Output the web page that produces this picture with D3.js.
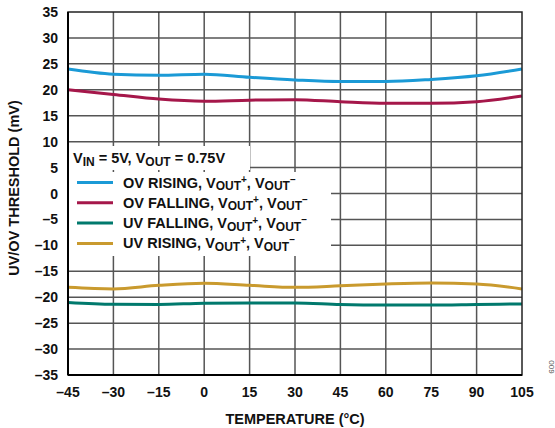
<!DOCTYPE html>
<html><head><meta charset="utf-8">
<script src="https://cdn.jsdelivr.net/npm/d3@7"></script>
<style>
body{margin:0;background:#fff;}
text{font-family:"Liberation Sans",Arial,sans-serif;font-weight:bold;fill:#111;}
</style></head>
<body><svg id="c" width="555" height="428"></svg>
<script>
const temps = [-45,-30,-15,0,15,30,45,60,75,90,105];
const ovRising  = [24.0,23.0,22.8,23.0,22.4,21.9,21.6,21.6,22.0,22.7,24.0];
const ovFalling = [20.0,19.1,18.2,17.8,18.0,18.1,17.7,17.4,17.4,17.7,18.8];
const uvFalling = [-21.0,-21.35,-21.4,-21.15,-21.1,-21.1,-21.4,-21.5,-21.5,-21.4,-21.3];
const uvRising  = [-18.1,-18.4,-17.7,-17.3,-17.7,-18.1,-17.8,-17.45,-17.25,-17.45,-18.4];
const xTicks = [-45,-30,-15,0,15,30,45,60,75,90,105];
const yTicks = [-35,-30,-25,-20,-15,-10,-5,0,5,10,15,20,25,30,35];
const seriesNames = ["OV RISING","OV FALLING","UV FALLING","UV RISING"];
const seriesColors = ["#1b9ad6","#a5174a","#00796d","#c99a2e"];
const seriesData = [ovRising, ovFalling, uvFalling, uvRising];

const svg = d3.select("#c");
const L=68,R=522,T=12,B=375;
const x = d3.scaleLinear().domain([-45,105]).range([L,R]);
const y = d3.scaleLinear().domain([-35,35]).range([B,T]);

// grid
const g = svg.append("g");
g.selectAll("line.v").data(xTicks.slice(1,-1)).join("line")
 .attr("x1",d=>x(d)).attr("x2",d=>x(d)).attr("y1",T).attr("y2",B)
 .attr("stroke","#555").attr("stroke-width",1.5);
g.selectAll("line.h").data(yTicks.slice(1,-1)).join("line")
 .attr("y1",d=>y(d)).attr("y2",d=>y(d)).attr("x1",L).attr("x2",R)
 .attr("stroke","#555").attr("stroke-width",1.5);

// lines
const line = d3.line().x((d,i)=>x(temps[i])).y(d=>y(d)).curve(d3.curveMonotoneX);
seriesData.forEach((s,k)=>{
  svg.append("path").datum(s).attr("d",line).attr("fill","none")
   .attr("stroke",seriesColors[k]).attr("stroke-width",3);
});

// frame
svg.append("rect").attr("x",L).attr("y",T).attr("width",R-L).attr("height",B-T)
 .attr("fill","none").attr("stroke","#222").attr("stroke-width",1.5);
svg.append("line").attr("x1",L).attr("x2",L).attr("y1",T).attr("y2",B).attr("stroke","#000").attr("stroke-width",2);
svg.append("line").attr("x1",L).attr("x2",R).attr("y1",B).attr("y2",B).attr("stroke","#000").attr("stroke-width",2);

// legend backgrounds
svg.append("rect").attr("x",L+1).attr("y",146).attr("width",181).attr("height",24).attr("fill","#fff");
svg.append("rect").attr("x",L+1).attr("y",172).attr("width",262).attr("height",84).attr("fill","#fff");

// annotation
const ann = svg.append("text").attr("x",73).attr("y",163).attr("font-size",14.5);
ann.append("tspan").text("V");
ann.append("tspan").text("IN").attr("font-size",12).attr("dy",3);
ann.append("tspan").text(" = 5V, V").attr("dy",-3);
ann.append("tspan").text("OUT").attr("font-size",12).attr("dy",3);
ann.append("tspan").text(" = 0.75V").attr("dy",-3);

// legend entries
seriesNames.forEach((n,k)=>{
  const yy = 182.5 + k*20.3;
  svg.append("line").attr("x1",77).attr("x2",113).attr("y1",yy).attr("y2",yy)
   .attr("stroke",seriesColors[k]).attr("stroke-width",3);
  const t = svg.append("text").attr("x",123).attr("y",yy+5).attr("font-size",14.5);
  t.append("tspan").text(n+", V");
  t.append("tspan").text("OUT").attr("font-size",12).attr("dy",2.5);
  t.append("tspan").text("+").attr("font-size",10).attr("dy",-7);
  t.append("tspan").text(", V").attr("dy",4.5);
  t.append("tspan").text("OUT").attr("font-size",12).attr("dy",2.5);
  t.append("tspan").text("\u2013").attr("font-size",10).attr("dy",-7.5);
});

// axes labels
svg.selectAll("text.yt").data(yTicks).join("text")
 .attr("x",58).attr("y",d=>y(d)+5).attr("text-anchor","end").attr("font-size",14)
 .text(d=>d<0?"\u2013"+Math.abs(d):d);
svg.selectAll("text.xt").data(xTicks).join("text")
 .attr("x",d=>x(d)).attr("y",397).attr("text-anchor","middle").attr("font-size",14)
 .text(d=>d<0?"\u2013"+Math.abs(d):d);

svg.append("text").attr("x",295).attr("y",424).attr("text-anchor","middle").attr("font-size",14.5)
 .text("TEMPERATURE (°C)");
svg.append("text").attr("transform",`translate(19,188) rotate(-90)`)
 .attr("text-anchor","middle").attr("font-size",14.5).text("UV/OV THRESHOLD (mV)");
svg.append("text").attr("transform","translate(549,367) rotate(90)")
 .attr("text-anchor","middle").attr("font-size",8).style("font-weight","normal").style("fill","#555").text("009");
</script></body></html>
